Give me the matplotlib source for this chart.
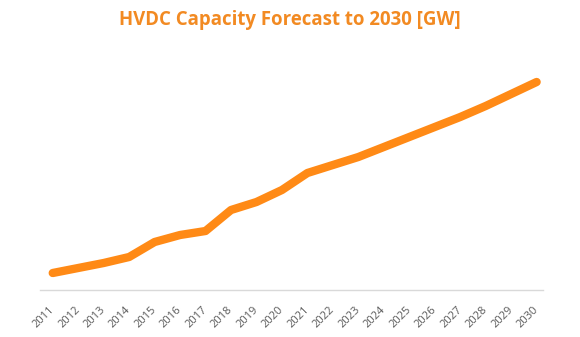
import matplotlib
matplotlib.use("Agg")
import matplotlib.pyplot as plt

years = [str(y) for y in range(2011, 2031)]
capacity = [17, 22, 27, 33, 48, 55, 59, 80, 88, 100, 117, 125, 133, 143, 153, 163, 173, 184, 196, 208]

plt.rcParams["font.family"] = ["Open Sans", "DejaVu Sans"]

fig = plt.figure(figsize=(5.8, 3.37), dpi=100)
ax = fig.add_axes([40 / 580, 1 - 290 / 337, 503 / 580, 230 / 337])

x = list(range(len(years)))
ax.plot(x, capacity, color="#ff8a16", linewidth=6, solid_capstyle="round", solid_joinstyle="round")

ax.set_xlim(-0.5, 19.25)
ax.set_ylim(0, 230)
ax.set_xticks(x)
ax.set_xticklabels(years, rotation=45, ha="right", va="center", rotation_mode="anchor",
                   fontsize=8, color="#595959")
ax.tick_params(axis="x", length=0, pad=13)
ax.set_yticks([])
for s in ["top", "right", "left"]:
    ax.spines[s].set_visible(False)
ax.spines["bottom"].set_color("#d9d9d9")
ax.spines["bottom"].set_linewidth(1)

fig.text(0.5, 1 - 20 / 337, "HVDC Capacity Forecast to 2030 [GW]", ha="center", va="center",
         fontsize=13.4, fontweight="bold", color="#f28a22")

fig.savefig("out.png", dpi=100)
